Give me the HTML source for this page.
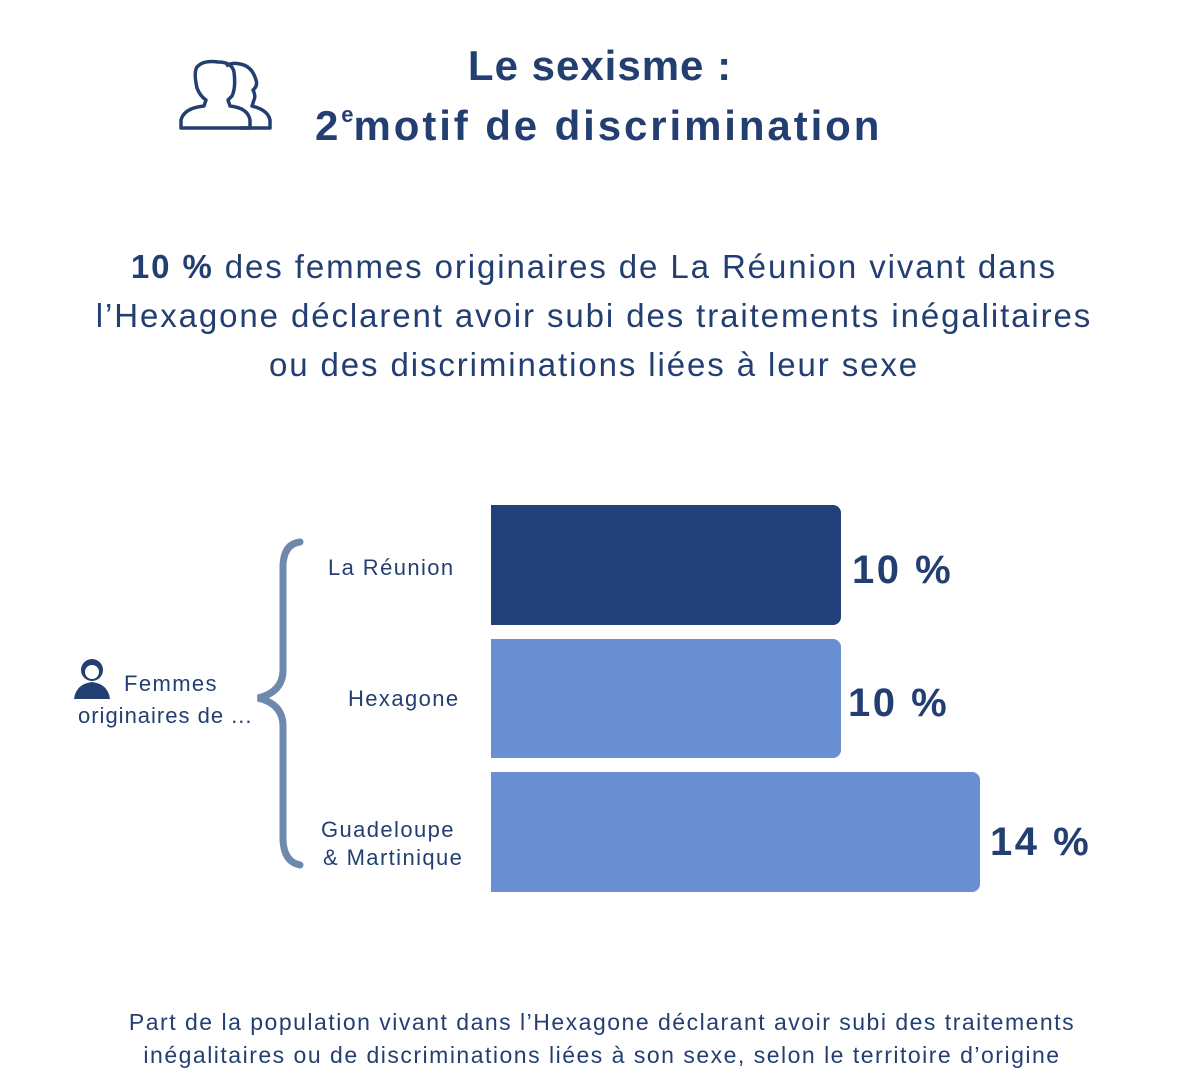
<!DOCTYPE html>
<html><head><meta charset="utf-8"><style>
body{margin:0;width:1180px;height:1086px;background:#fff;position:relative;overflow:hidden;font-family:"Liberation Sans",sans-serif;color:#233f72}
.a{position:absolute;white-space:nowrap}
.bar{position:absolute;border-radius:0 8px 8px 0}
.lab{font-size:22px;letter-spacing:1.4px}
.pct{font-size:40px;font-weight:bold;letter-spacing:2.5px}
</style></head><body>
<svg class="a" style="left:0;top:0" width="1180" height="1086">
<g fill="none" stroke="#233f72" stroke-width="3.5" stroke-linejoin="round">
<path d="M181 128 L181 120 Q184 108 204 106 L206 100 Q200 96 197 88 Q193 70 198 66 Q204 60 218 62 Q232 62 234 72 Q236 88 232 96 L228 100 L230 106 Q248 108 250 120 L250 128 Z"/>
<path d="M240 128 L270 128 L270 120 Q268 110 252 106 L254 100 Q256 96 253 90 Q258 86 256 80 Q252 66 240 64 Q232 62 226 66"/>
</g>
<path d="M300 542 Q284 544 283 565 L283 670 Q283 692 258 698 Q283 704 283 726 L283 840 Q284 862 300 865" fill="none" stroke="#6e89ad" stroke-width="7" stroke-linecap="round"/>
<g fill="#233f72">
<circle cx="92" cy="670" r="11"/>
<path d="M74 699 Q76 684 92 682 Q108 684 110 699 Z"/>
</g>
<circle cx="92" cy="672" r="7" fill="#fff"/>
</svg>
<div class="a" style="left:0;width:1200px;text-align:center;top:42px;font-size:42px;font-weight:bold;letter-spacing:1px">Le sexisme :</div>
<div class="a" style="left:315px;top:102px;font-size:42px;font-weight:bold;letter-spacing:2.9px">2<sup style="font-size:22px;vertical-align:18px;letter-spacing:0">e</sup>motif de discrimination</div>
<div class="a" style="left:0;width:1188px;text-align:center;top:242px;font-size:33px;line-height:49px;letter-spacing:1.9px;white-space:normal"><b>10 %</b> des femmes originaires de La Réunion vivant dans<br>l’Hexagone déclarent avoir subi des traitements inégalitaires<br>ou des discriminations liées à leur sexe</div>
<div class="bar" style="left:491px;top:505px;width:350px;height:120px;background:#22407a"></div>
<div class="bar" style="left:491px;top:639px;width:350px;height:119px;background:#6a8fd2"></div>
<div class="bar" style="left:491px;top:772px;width:489px;height:120px;background:#6a8fd2"></div>
<div class="a pct" style="left:852px;top:548px">10 %</div>
<div class="a pct" style="left:848px;top:681px">10 %</div>
<div class="a pct" style="left:990px;top:820px">14 %</div>
<div class="a lab" style="left:328px;top:555px">La Réunion</div>
<div class="a lab" style="left:348px;top:686px">Hexagone</div>
<div class="a lab" style="left:321px;top:817px">Guadeloupe</div>
<div class="a lab" style="left:323px;top:845px">&amp; Martinique</div>
<div class="a lab" style="left:124px;top:671px">Femmes</div>
<div class="a" style="left:78px;top:703px;font-size:22px;letter-spacing:1px">originaires de ...</div>
<div class="a" style="left:0;width:1204px;text-align:center;top:1006px;font-size:23px;line-height:33px;letter-spacing:1.5px">Part de la population vivant dans l’Hexagone déclarant avoir subi des traitements<br>inégalitaires ou de discriminations liées à son sexe, selon le territoire d’origine</div>
</body></html>
